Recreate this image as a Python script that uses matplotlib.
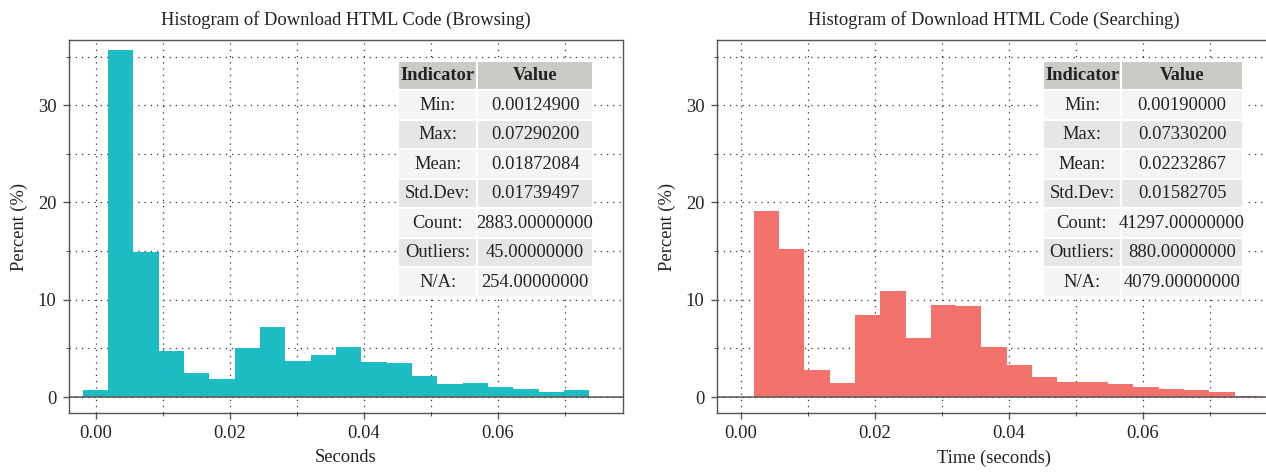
import matplotlib.pyplot as plt
from matplotlib.ticker import MultipleLocator

plt.rcParams['font.family'] = ['Liberation Serif', 'DejaVu Serif']

# --- histogram data (percent per bin) ---
bin_edges = [-0.0019, 0.00188, 0.00566, 0.00944, 0.01322, 0.01700, 0.02078,
             0.02456, 0.02834, 0.03212, 0.03590, 0.03968, 0.04346, 0.04724,
             0.05102, 0.05480, 0.05858, 0.06236, 0.06614, 0.06992, 0.07370,
             0.07748]

browsing_pct = [0.72, 35.7, 14.9, 4.73, 2.47, 1.82, 5.0, 7.19, 3.7, 4.28,
                5.1, 3.6, 3.49, 2.16, 1.34, 1.44, 0.99, 0.79, 0.48, 0.72, 0.0]
searching_pct = [0.0, 19.08, 15.17, 2.77, 1.40, 8.42, 10.86, 6.03, 9.42, 9.32,
                 5.10, 3.25, 2.02, 1.54, 1.54, 1.30, 0.99, 0.79, 0.68, 0.48, 0.15]

# --- summary tables ---
indicators = ["Min:", "Max:", "Mean:", "Std.Dev:", "Count:", "Outliers:", "N/A:"]
browsing_vals = ["0.00124900", "0.07290200", "0.01872084", "0.01739497",
                 "2883.00000000", "45.00000000", "254.00000000"]
searching_vals = ["0.00190000", "0.07330200", "0.02232867", "0.01582705",
                  "41297.00000000", "880.00000000", "4079.00000000"]

titles = ["Histogram of Download HTML Code (Browsing)",
          "Histogram of Download HTML Code (Searching)"]
xlabels = ["Seconds", "Time (seconds)"]
colors = ["#1BBCC2", "#F3726B"]

fig = plt.figure(figsize=(12.66, 4.74), dpi=100)
W, H = 1266, 474
ax1 = fig.add_axes([69 / W, 61 / H, 554 / W, 373 / H])
ax2 = fig.add_axes([717 / W, 61 / H, 553 / W, 373 / H])

frame_c = "#555555"
text_c = "#222222"
fs = 13.3
widths = [b - a for a, b in zip(bin_edges[:-1], bin_edges[1:])]


def draw_panel(ax, pct, color, title, xlabel, vals, xlim, tbl_box, col_w):
    ax.bar(bin_edges[:-1], pct, width=widths, align='edge', color=color,
           linewidth=0, zorder=2)
    ax.axhline(0, color=frame_c, lw=1.1, zorder=3)
    ax.set_xlim(*xlim)
    ax.set_ylim(-1.64, 36.7)

    ax.xaxis.set_major_locator(MultipleLocator(0.02))
    ax.xaxis.set_minor_locator(MultipleLocator(0.01))
    ax.yaxis.set_major_locator(MultipleLocator(10))
    ax.yaxis.set_minor_locator(MultipleLocator(5))
    ax.xaxis.set_major_formatter(lambda v, p: f"{v:.2f}")
    ax.grid(which='both', color="#333333", linestyle=(0, (1, 4)), lw=0.9, zorder=1)
    ax.set_axisbelow(True)

    ax.tick_params(which='major', length=4, width=1, color=frame_c,
                   labelsize=fs, labelcolor=text_c, pad=5)
    ax.tick_params(which='minor', length=2, width=0.8, color=frame_c)
    for s in ax.spines.values():
        s.set_color(frame_c)
        s.set_linewidth(1.0)

    ax.set_title(title, fontsize=fs, color=text_c, pad=11)
    ax.set_xlabel(xlabel, fontsize=fs, color=text_c, labelpad=5)
    ax.set_ylabel("Percent (%)", fontsize=fs, color=text_c, labelpad=7)

    cells = [[i, v] for i, v in zip(indicators, vals)]
    tbl = ax.table(cellText=cells, colLabels=["Indicator", "Value"],
                   cellLoc='center', colWidths=col_w, bbox=tbl_box, zorder=5)
    tbl.auto_set_font_size(False)
    for (r, c), cell in tbl.get_celld().items():
        cell.set_edgecolor("white")
        cell.set_linewidth(1.5)
        cell.PAD = 0.02
        cell.get_text().set_fontsize(fs)
        cell.get_text().set_color(text_c)
        if r == 0:
            cell.set_facecolor("#CACAC7")
            cell.get_text().set_fontweight('bold')
        elif r % 2 == 1:
            cell.set_facecolor("#F3F4F5")
        else:
            cell.set_facecolor("#E5E6E5")


draw_panel(ax1, browsing_pct, colors[0], titles[0], xlabels[0], browsing_vals,
           (-0.00396, 0.0787), [0.594, 0.311, 0.352, 0.633], [0.405, 0.595])
draw_panel(ax2, searching_pct, colors[1], titles[1], xlabels[1], searching_vals,
           (-0.0036, 0.0790), [0.5895, 0.311, 0.3617, 0.633], [0.39, 0.61])

fig.savefig("out.png", dpi=100)
